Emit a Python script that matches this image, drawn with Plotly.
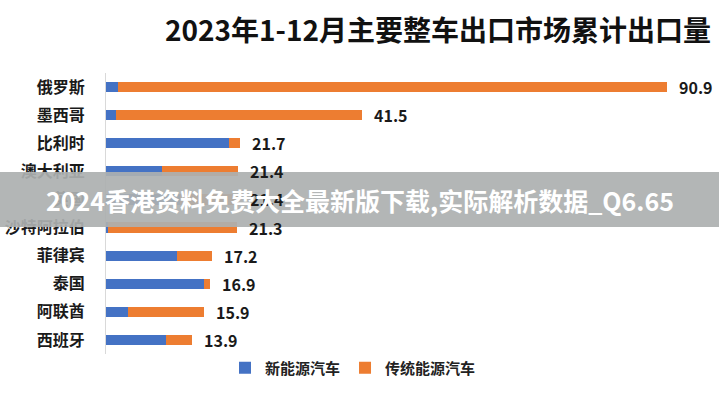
import plotly.graph_objects as go

categories = ["俄罗斯", "墨西哥", "比利时", "澳大利亚", "英国", "沙特阿拉伯", "菲律宾", "泰国", "阿联酋", "西班牙"]
nev = [2.0, 1.7, 19.9, 9.1, 12.0, 0.3, 11.5, 15.9, 3.6, 9.7]
traditional = [88.9, 39.8, 1.8, 12.3, 9.4, 21.0, 5.7, 1.0, 12.3, 4.2]
totals = [90.9, 41.5, 21.7, 21.4, 21.4, 21.3, 17.2, 16.9, 15.9, 13.9]
title_text = "2023年1-12月主要整车出口市场累计出口量"
banner_text = "2024香港资料免费大全最新版下载,实际解析数据_Q6.65"

FONT = "Noto Sans CJK SC"
BLUE = "#4472C4"
ORANGE = "#ED7D31"

L, R, T, B = 106, 13, 73, 46
PW = 719 - L - R
PH = 400 - T - B

def px_x(x):
    return (x - L) / PW

def px_y(y):
    return 1 - (y - T) / PH

fig = go.Figure()
fig.add_trace(go.Bar(y=categories, x=nev, orientation="h", name="新能源汽车",
                     marker=dict(color=BLUE, line=dict(width=0)), width=0.36))
fig.add_trace(go.Bar(y=categories, x=traditional, orientation="h", name="传统能源汽车",
                     marker=dict(color=ORANGE, line=dict(width=0)), width=0.36))

for c, t in zip(categories, totals):
    fig.add_annotation(x=t, y=c, text=f"{t}", showarrow=False, xanchor="left",
                       xshift=10, font=dict(family=FONT, size=16, color="#1a1a1a", weight="bold"))

fig.add_annotation(x=px_x(438), y=px_y(29), xref="paper", yref="paper", text=title_text,
                   showarrow=False, xanchor="center", yanchor="middle",
                   font=dict(family=FONT, size=28, color="#111111", weight="bold"))

# banner overlay
fig.add_shape(type="rect", xref="paper", yref="paper",
              x0=px_x(0), x1=px_x(719), y0=px_y(172), y1=px_y(227),
              fillcolor="rgba(172,176,176,0.92)", line=dict(width=0), layer="above")
fig.add_annotation(x=px_x(360), y=px_y(200), xref="paper", yref="paper",
                   text=banner_text, showarrow=False, xanchor="center", yanchor="middle",
                   font=dict(family=FONT, size=25, color="white", weight="bold"))

fig.update_layout(
    barmode="stack",
    width=719, height=400,
    margin=dict(l=L, r=R, t=T, b=B),
    paper_bgcolor="white", plot_bgcolor="white",
    font=dict(family=FONT, size=15, color="#222222"),
    showlegend=True,
    legend=dict(orientation="h", x=px_x(353), xanchor="center", y=px_y(368), yanchor="middle",
                font=dict(family=FONT, size=15, color="#222222", weight="bold"), itemwidth=30,
                traceorder="normal"),
    xaxis=dict(range=[0, PW / 6.17], visible=False, showgrid=False, zeroline=False),
    yaxis=dict(autorange="reversed", automargin=False, showgrid=False, zeroline=False, showline=True,
               linecolor="#d9d9d9", linewidth=1, ticks="", ticklabelstandoff=17,
               tickfont=dict(family=FONT, size=16, color="#1a1a1a", weight="bold")),
)

fig.write_html("out.html")
